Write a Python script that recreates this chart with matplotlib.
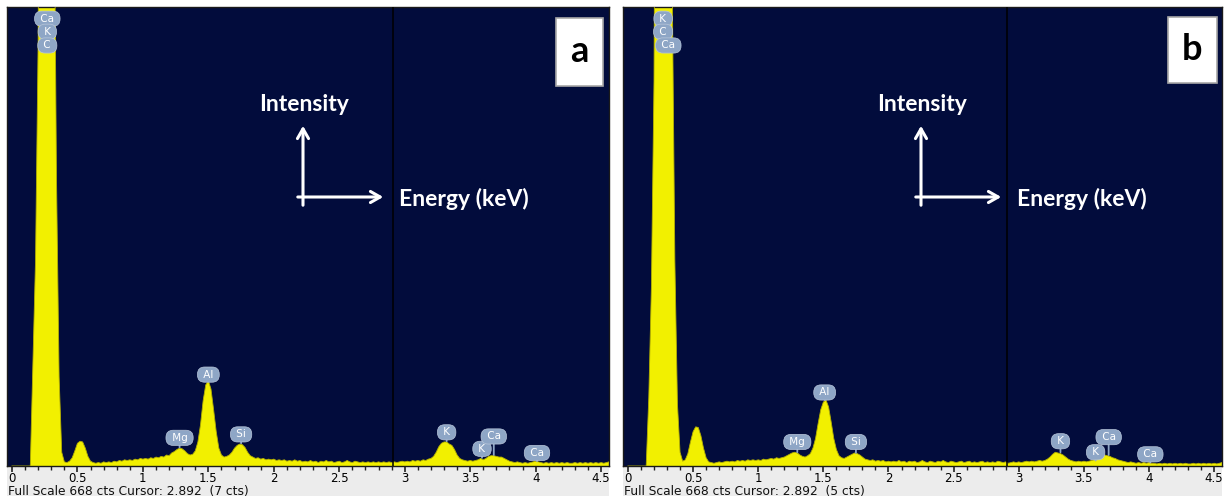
import numpy as np
import matplotlib
matplotlib.use('Agg')
import matplotlib.pyplot as plt
from matplotlib.patches import Rectangle

W, H = 1226, 497

# energy channels (keV), 0.02 keV wide
energy = np.round(np.arange(0, 4.59, 0.02), 2)

# counts
counts_a = np.array([
    0, 0, 0, 0, 0, 0, 0, 0, 150, 300,
    620, 1500, 2200, 2500, 2300, 1600, 900, 420, 130, 20,
    6, 5, 7, 12, 22, 33, 36, 35, 26, 14,
    7, 5, 4, 5, 4, 6, 5, 6, 5, 7,
    6, 8, 7, 9, 8, 9, 8, 10, 9, 11,
    10, 11, 10, 12, 11, 13, 12, 14, 13, 16,
    15, 19, 21, 24, 26, 25, 22, 18, 16, 17,
    22, 35, 60, 95, 118, 124, 112, 82, 50, 26,
    16, 13, 14, 16, 20, 26, 30, 32, 31, 27,
    20, 15, 13, 11, 12, 10, 11, 9, 10, 9,
    10, 8, 9, 8, 9, 7, 8, 7, 9, 7,
    8, 6, 7, 6, 8, 6, 7, 5, 7, 6,
    8, 6, 7, 5, 6, 7, 5, 6, 8, 6,
    5, 7, 6, 5, 6, 5, 6, 5, 6, 5,
    6, 5, 6, 5, 6, 5, 6, 5, 6, 7,
    6, 7, 6, 8, 7, 8, 7, 9, 8, 10,
    11, 14, 20, 28, 33, 35, 35, 32, 30, 24,
    16, 11, 9, 8, 7, 8, 7, 8, 9, 11,
    9, 11, 14, 15, 15, 14, 13, 13, 11, 9,
    7, 6, 5, 6, 5, 4, 5, 4, 5, 6,
    7, 6, 5, 4, 5, 4, 5, 4, 5, 4,
    5, 4, 5, 4, 4, 5, 4, 5, 4, 5,
    4, 5, 4, 5, 4, 5, 4, 5, 6, 5,
])

# counts
counts_b = np.array([
    0, 0, 0, 0, 0, 0, 0, 0, 100, 260,
    560, 1400, 2200, 2600, 2500, 2000, 1300, 700, 300, 90,
    20, 7, 9, 18, 35, 50, 57, 56, 44, 26,
    12, 6, 5, 4, 5, 6, 5, 6, 7, 6,
    7, 6, 8, 7, 8, 7, 9, 8, 9, 8,
    9, 8, 10, 9, 10, 11, 10, 12, 11, 12,
    13, 15, 17, 19, 20, 19, 16, 14, 13, 15,
    18, 26, 40, 62, 82, 93, 96, 86, 64, 40,
    24, 15, 12, 11, 13, 15, 17, 19, 18, 16,
    13, 10, 9, 8, 9, 7, 8, 7, 8, 6,
    7, 6, 7, 6, 8, 6, 7, 5, 7, 6,
    7, 5, 6, 8, 6, 5, 7, 6, 5, 7,
    6, 8, 6, 5, 7, 6, 5, 6, 7, 5,
    6, 7, 5, 6, 5, 6, 7, 5, 6, 5,
    6, 5, 7, 6, 5, 6, 4, 5, 6, 5,
    6, 5, 6, 7, 6, 7, 6, 7, 8, 7,
    8, 10, 13, 17, 20, 19, 18, 16, 13, 10,
    8, 7, 6, 7, 6, 7, 6, 7, 8, 9,
    10, 12, 15, 16, 15, 14, 12, 11, 9, 8,
    7, 6, 5, 6, 5, 4, 5, 4, 5, 4,
    5, 4, 4, 3, 4, 3, 4, 3, 4, 3,
    4, 3, 4, 3, 4, 3, 3, 4, 3, 4,
    3, 4, 3, 4, 3, 4, 3, 4, 5, 4,
])

full_scale = 668
cursor = 2.892
cursor_line = 2.91   # where the marker line sits in the picture
cursor_cts = ['7 cts', '5 cts']

tick_pos = [0, 0.5, 1, 1.5, 2, 2.5, 3, 3.5, 4, 4.5]
tick_labels = ['0', '0.5', '1', '1.5', '2', '2.5', '3', '3.5', '4', '4.5']

# element badges: name, energy, badge height, stem tip (cts)
names_a = ['Ca', 'K', 'C', 'Mg', 'Al', 'Si', 'K', 'K', 'Ca', 'Ca']
lab_e_a = [0.27, 0.27, 0.27, 1.28, 1.50, 1.75, 3.32, 3.59, 3.68, 4.01]
lab_c_a = [651, 632, 612, 41, 133, 46, 49, 25, 43, 19]
tip_a = [651, 632, 612, 27, 124, 33, 36, 12, 16, 7]

names_b = ['K', 'C', 'Ca', 'Mg', 'Al', 'Si', 'K', 'K', 'Ca', 'Ca']
lab_e_b = [0.27, 0.27, 0.31, 1.30, 1.51, 1.75, 3.32, 3.59, 3.69, 4.01]
lab_c_b = [651, 632, 612, 35, 107, 35, 36, 20, 42, 17]
tip_b = [651, 632, 612, 20, 96, 19, 20, 8, 16, 5]

navy = '#020c3c'
yellow = '#f2f000'
badge_col = '#8ea6c6'


def fx(x):
    return x / W


def fy(y):
    return 1 - y / H


fig = plt.figure(figsize=(W / 100, H / 100), dpi=100)
fig.patch.set_facecolor('white')


def panel(left, right, counts, names, lab_e, lab_c, tips, letter, cts, arr_x, box):
    ax = fig.add_axes([fx(left), fy(466), (right - left) / W, (466 - 7) / H])
    ax.set_facecolor(navy)
    ax.fill_between(energy, counts, color=yellow, lw=0, zorder=2)
    ax.plot(energy, counts, color='#b4b000', lw=0.6, zorder=3)
    ax.axvline(cursor_line, color='black', lw=1.1, zorder=4)
    ax.set_xlim(-0.038, 4.56)
    ax.set_ylim(0, full_scale)
    ax.set_yticks([])
    ax.set_xticks(tick_pos)
    ax.set_xticklabels(tick_labels)
    ax.set_xticks(np.round(np.arange(0, 4.6, 0.1), 1), minor=True)
    ax.tick_params(axis='x', which='major', direction='out', length=4, width=1.2,
                   color='#222222', labelsize=8.5, pad=0.5)
    ax.tick_params(axis='x', which='minor', direction='out', length=3, width=1,
                   color='#222222')
    for s in ax.spines.values():
        s.set_color('#1a1a1a')
        s.set_linewidth(1)

    for n, e, c, t in zip(names, lab_e, lab_c, tips):
        ax.annotate(' ' + n + ' ', xy=(e, t), xytext=(e, c), ha='center', va='center',
                    fontsize=7.5, color='white', zorder=6,
                    bbox=dict(boxstyle='round,pad=0.25,rounding_size=0.7', fc=badge_col,
                              ec='#b8c6da', lw=0.5),
                    arrowprops=dict(arrowstyle='-', color=badge_col, lw=1.3,
                                    shrinkA=0, shrinkB=0))

    # grey strip with scale info
    fig.add_artist(Rectangle((fx(left), fy(496)), (right - left) / W, 30 / H,
                             transform=fig.transFigure, fc='#ececec', ec='none', zorder=-1))
    fig.text(fx(left + 1), fy(491), 'Full Scale %d cts Cursor: %.3f  (%s)' % (full_scale, cursor, cts),
             fontsize=8.8, va='center', ha='left', color='#111111')

    # intensity / energy arrows
    ax.annotate('', xy=(arr_x, H - 123), xytext=(arr_x, H - 208),
                xycoords='figure pixels', textcoords='figure pixels',
                arrowprops=dict(arrowstyle='->,head_length=0.7,head_width=0.4',
                                color='white', lw=2.2))
    ax.annotate('', xy=(arr_x + 83, H - 197), xytext=(arr_x - 8, H - 197),
                xycoords='figure pixels', textcoords='figure pixels',
                arrowprops=dict(arrowstyle='->,head_length=0.7,head_width=0.4',
                                color='white', lw=2.2))
    fig.text(fx(arr_x + 1), fy(105), 'Intensity', ha='center', va='center', color='white',
             fontsize=16.5, fontweight='bold', family='Lato')
    fig.text(fx(arr_x + 96), fy(199), 'Energy (keV)', ha='left', va='center', color='white',
             fontsize=16.5, fontweight='bold', family='Lato')

    bx0, by0, bx1, by1 = box
    fig.add_artist(Rectangle((fx(bx0), fy(by1)), (bx1 - bx0) / W, (by1 - by0) / H,
                             transform=fig.transFigure, fc='white', ec='#a8a8a8', lw=1.2, zorder=5))
    fig.text(fx((bx0 + bx1) / 2), fy((by0 + by1) / 2), letter, ha='center', va='center',
             fontsize=26, fontweight='bold', family='Lato', color='black', zorder=6)
    return ax


panel(7, 609, counts_a, names_a, lab_e_a, lab_c_a, tip_a, 'a', cursor_cts[0], 303,
      (556, 18, 603, 86))
panel(623, 1222, counts_b, names_b, lab_e_b, lab_c_b, tip_b, 'b', cursor_cts[1], 921,
      (1168, 17, 1217, 83))

fig.savefig('out.png', dpi=100, facecolor='white')
